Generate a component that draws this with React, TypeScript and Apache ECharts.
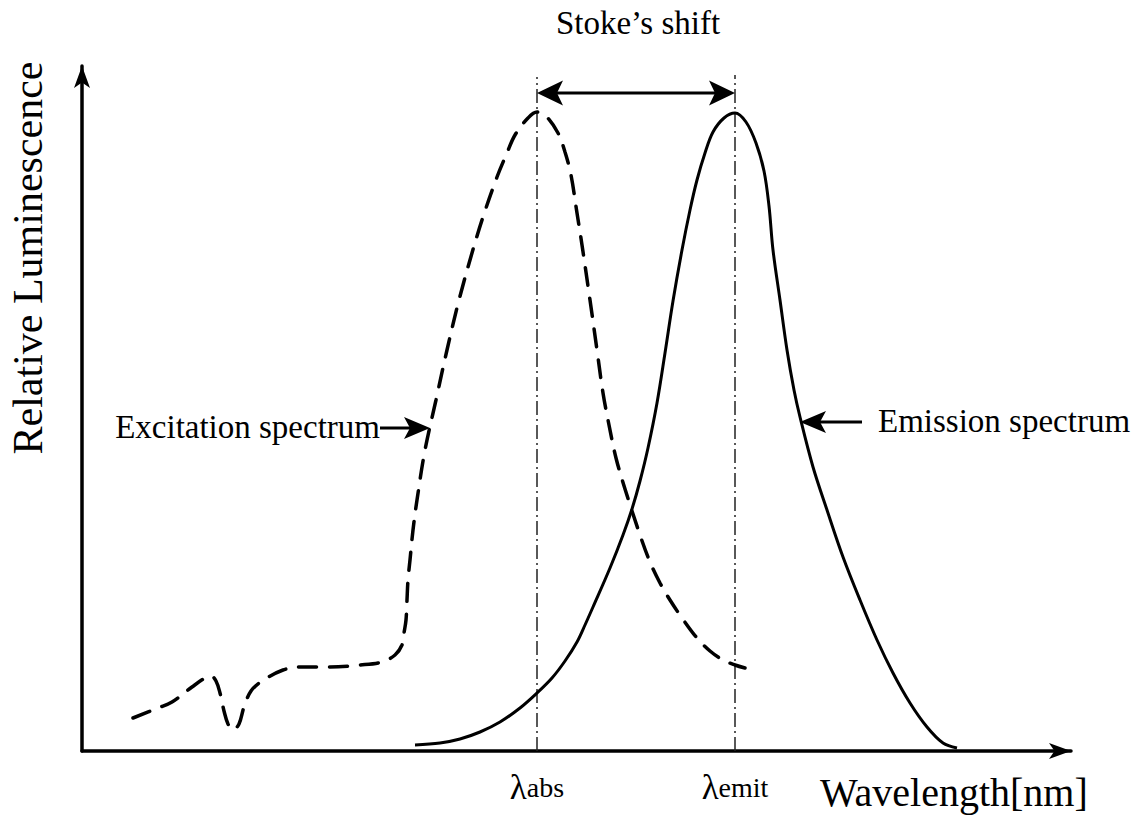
import React, { useEffect, useRef } from 'react';
import * as echarts from 'echarts';

// x: wavelength position (arbitrary units), y: relative luminescence (arbitrary units)
const excitationSpectrum: number[][] = [
  [51, 33], [76, 43], [90, 49], [110, 64], [123, 73], [129, 75], [134, 70], [138, 58],
  [142, 40], [146, 27], [151, 21], [157, 27], [162, 44], [169, 60], [180, 70], [201, 81], [218, 84],
  [248, 84], [278, 86], [300, 89], [313, 96], [320, 106], [322, 118], [324, 131], [325, 151], [326, 171],
  [328, 191], [331, 221], [335, 251], [343, 301], [354, 351], [365, 401], [377, 451], [390, 498],
  [401, 534], [415, 574], [425, 598], [433, 616], [446, 633], [455, 639], [463, 636], [476, 618],
  [483, 599], [489, 576], [495, 538], [500, 506], [508, 451], [515, 401], [521, 358], [527, 326],
  [534, 293], [543, 262], [558, 216], [568, 189], [578, 168], [588, 151], [600, 133], [615, 113],
  [628, 100], [641, 91], [653, 86], [663, 83]
];

const emissionSpectrum: number[][] = [
  [333, 6], [358, 8], [378, 12], [398, 19], [418, 29], [438, 43], [455, 58], [470, 73],
  [483, 90], [495, 109], [503, 126], [511, 144], [528, 183], [541, 216], [550, 242], [558, 270],
  [566, 303], [575, 348], [583, 398], [591, 450], [600, 501], [608, 541], [615, 571], [623, 598],
  [631, 619], [642, 633], [653, 638], [664, 629], [674, 608], [682, 580], [687, 545], [691, 501],
  [698, 451], [705, 401], [712, 361], [718, 334], [731, 284], [745, 241], [761, 194], [778, 151],
  [795, 111], [811, 78], [828, 48], [845, 24], [861, 8], [875, 3]
];

// peak positions (λabs, λemit) and the top of their guide lines
const peakPositions = [455, 653];
const peakLineTops = [674, 676];
const tickSubscripts = ['abs', 'emit'];

// arrows: [x1, y1, x2, y2, headAtStart, headAtEnd]
const stokesArrow = [455, 658, 653, 658, 1, 1];
const excitationArrow = [298, 323, 348, 323, 0, 1];
const emissionArrow = [780, 329, 718, 329, 0, 1];

const FONT = 'Liberation Serif';

function head(tip: number[], from: number[], L: number, W: number, notch: number) {
  const dx = tip[0] - from[0];
  const dy = tip[1] - from[1];
  const len = Math.hypot(dx, dy) || 1;
  const ux = dx / len, uy = dy / len;
  const px = -uy, py = ux;
  const bx = tip[0] - ux * L, by = tip[1] - uy * L;
  return [
    [tip[0], tip[1]],
    [bx + (px * W) / 2, by + (py * W) / 2],
    [tip[0] - ux * (L - notch), tip[1] - uy * (L - notch)],
    [bx - (px * W) / 2, by - (py * W) / 2],
  ];
}

export default function App() {
  const ref = useRef<HTMLDivElement>(null);
  useEffect(() => {
    if (!ref.current) return;
    const chart = echarts.init(ref.current, undefined, { renderer: 'svg' });
    const arrowRender = (params: any, api: any) => {
      const p1 = api.coord([api.value(0), api.value(1)]);
      const p2 = api.coord([api.value(2), api.value(3)]);
      const hs = api.value(4);
      const he = api.value(5);
      const big = params.dataIndex === 0;
      const L = 26;
      const W = big ? 25 : 22;
      const notch = 6;
      const dx = p2[0] - p1[0], dy = p2[1] - p1[1];
      const len = Math.hypot(dx, dy) || 1;
      const ux = dx / len, uy = dy / len;
      const a = hs ? [p1[0] + ux * (L - notch), p1[1] + uy * (L - notch)] : p1;
      const b = he ? [p2[0] - ux * (L - notch), p2[1] - uy * (L - notch)] : p2;
      const children: any[] = [
        { type: 'line', shape: { x1: a[0], y1: a[1], x2: b[0], y2: b[1] }, style: { stroke: '#000', lineWidth: 3 } },
      ];
      if (hs) children.push({ type: 'polygon', shape: { points: head(p1, p2, L, W, notch) }, style: { fill: '#000' } });
      if (he) children.push({ type: 'polygon', shape: { points: head(p2, p1, L, W, notch) }, style: { fill: '#000' } });
      return { type: 'group', children };
    };
    const textStyle = (size: number) => ({ fontFamily: FONT, fontSize: size, fill: '#000' });
    const option: any = {
      animation: false,
      backgroundColor: '#fff',
      textStyle: { fontFamily: FONT },
      grid: { left: 82, right: 73, top: 66, bottom: 65, containLabel: false },
      xAxis: {
        type: 'value', min: 0, max: 989,
        axisLine: { show: true, symbol: ['none', 'arrow'], symbolSize: [12, 22], lineStyle: { color: '#000', width: 3.5 } },
        axisTick: { show: false },
        splitLine: { show: false },
        axisLabel: {
          show: true,
          customValues: peakPositions,
          margin: 19,
          color: '#000',
          fontFamily: FONT,
          fontSize: 28,
          formatter: (v: number) => {
            const i = peakPositions.indexOf(v);
            return i >= 0 ? `{l|λ}{s|${tickSubscripts[i]}}` : '';
          },
          rich: {
            l: { fontSize: 35, fontFamily: FONT, color: '#000' },
            s: { fontSize: 28, fontFamily: FONT, color: '#000' },
          },
        },
      },
      yAxis: {
        type: 'value', min: 0, max: 685,
        axisLine: { show: true, symbol: ['none', 'arrow'], symbolSize: [12, 22], lineStyle: { color: '#000', width: 3.5 } },
        axisTick: { show: false },
        splitLine: { show: false },
        axisLabel: { show: false },
      },
      series: [
        {
          type: 'line', name: 'Excitation spectrum', data: excitationSpectrum, showSymbol: false, smooth: 0.35,
          lineStyle: { color: '#000', width: 3.5, type: [18, 13], cap: 'round' }, silent: true,
        },
        {
          type: 'line', name: 'Emission spectrum', data: emissionSpectrum, showSymbol: false, smooth: 0.35,
          lineStyle: { color: '#000', width: 3 }, silent: true,
        },
        {
          type: 'custom', name: 'guides', silent: true, clip: false,
          data: peakPositions.map((x, i) => [x, 0, peakLineTops[i]]),
          renderItem: (params: any, api: any) => {
            const p1 = api.coord([api.value(0), api.value(1)]);
            const p2 = api.coord([api.value(0), api.value(2)]);
            return {
              type: 'line',
              shape: { x1: p1[0], y1: p1[1], x2: p2[0], y2: p2[1] },
              style: { stroke: '#222', lineWidth: 1.5, lineDash: [14, 4, 2, 4] },
            };
          },
        },
        {
          type: 'custom', name: 'arrows', silent: true, clip: false,
          data: [stokesArrow, excitationArrow, emissionArrow],
          renderItem: arrowRender,
        },
      ],
      graphic: [
        { type: 'text', x: 638, y: 23, style: { text: 'Stoke’s shift', ...textStyle(33), textAlign: 'center', textVerticalAlign: 'middle' } },
        { type: 'text', x: 380, y: 427, style: { text: 'Excitation spectrum', ...textStyle(33), textAlign: 'right', textVerticalAlign: 'middle' } },
        { type: 'text', x: 878, y: 421, style: { text: 'Emission spectrum', ...textStyle(33), textAlign: 'left', textVerticalAlign: 'middle' } },
        { type: 'text', x: 820, y: 792, style: { text: 'Wavelength[nm]', ...textStyle(40), textAlign: 'left', textVerticalAlign: 'middle' } },
        { type: 'text', x: 28, y: 258, rotation: Math.PI / 2, style: { text: 'Relative Luminescence', ...textStyle(42), textAlign: 'center', textVerticalAlign: 'middle' } },
      ],
    };
    chart.setOption(option);
    return () => chart.dispose();
  }, []);
  return <div ref={ref} style={{ position: 'fixed', left: 0, top: 0, width: 1144, height: 816, background: '#fff' }} />;
}
